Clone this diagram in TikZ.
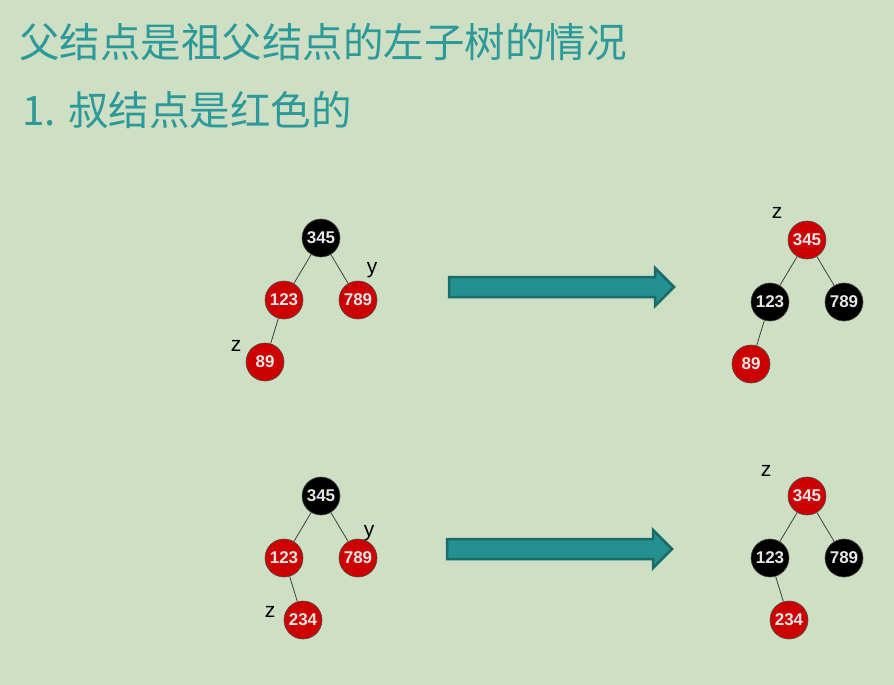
\documentclass[tikz,border=0pt]{standalone}
\usepackage{fontspec}
\setmainfont{Liberation Sans}
\newfontfamily\cjk{Noto Sans CJK SC}
\newfontfamily\numfont{Liberation Sans Bold}
\definecolor{bg}{HTML}{CFDFC3}
\definecolor{rb}{HTML}{CC0000}
\definecolor{teal1}{HTML}{2C9A9A}
\definecolor{afill}{HTML}{24908F}
\definecolor{aline}{HTML}{1B6B6B}
\definecolor{numc}{HTML}{E6E6E6}
\begin{document}
\begin{tikzpicture}[x=1pt,y=-1pt,
  rbn/.style={circle,minimum size=38pt,inner sep=0pt,draw=black!70,line width=0.6pt,
     font=\numfont\fontsize{17}{17}\selectfont,text=numc},
  rn/.style={rbn,fill=rb},
  bn/.style={rbn,fill=black},
  edge/.style={draw=black!75,line width=0.8pt},
  lab/.style={font=\fontsize{21}{21}\selectfont,text=black,inner sep=0pt},
  bigarrow/.style={fill=afill,draw=aline,line width=2.5pt,line join=miter},
  ttl/.style={font=\cjk\fontsize{40.5}{40.5}\selectfont,text=teal1,anchor=west,inner sep=0pt}
]
\fill[bg] (0,0) rectangle (894,685);
\useasboundingbox (0,0) rectangle (894,685);

\node[ttl] (t1) at (19,42) {父结点是祖父结点的左子树的情况};
\node[ttl] (t2) at (22,110) {1. 叔结点是红色的};

% tree 1 left
\node[bn] (a1) at (321,238) {345};
\node[rn] (a2) at (284,300) {123};
\node[rn] (a3) at (358,300) {789};
\node[rn] (a4) at (265,362) {89};
\draw[edge] (a1) -- (a2); \draw[edge] (a1) -- (a3); \draw[edge] (a2) -- (a4);
\node[lab] (az) at (236,346) {z};
\node[lab] (ay) at (372,270) {y};

% arrow 1
\draw[bigarrow] (449,277) -- (655,277) -- (655,268) -- (674,287) -- (655,306) -- (655,297) -- (449,297) -- cycle;

% tree 1 right
\node[rn] (b1) at (807,240) {345};
\node[bn] (b2) at (770,302) {123};
\node[bn] (b3) at (844,302) {789};
\node[rn] (b4) at (751,364) {89};
\draw[edge] (b1) -- (b2); \draw[edge] (b1) -- (b3); \draw[edge] (b2) -- (b4);
\node[lab] (bz) at (777,213) {z};

% tree 2 left
\node[bn] (c1) at (321,496) {345};
\node[rn] (c2) at (284,558) {123};
\node[rn] (c3) at (358,558) {789};
\node[rn] (c4) at (303,620) {234};
\draw[edge] (c1) -- (c2); \draw[edge] (c1) -- (c3); \draw[edge] (c2) -- (c4);
\node[lab] (cz) at (270,612) {z};
\node[lab] (cy) at (369,533) {y};

% arrow 2
\draw[bigarrow] (447,539) -- (653,539) -- (653,530) -- (672,549) -- (653,568) -- (653,559) -- (447,559) -- cycle;

% tree 2 right
\node[rn] (d1) at (807,496) {345};
\node[bn] (d2) at (770,558) {123};
\node[bn] (d3) at (844,558) {789};
\node[rn] (d4) at (789,620) {234};
\draw[edge] (d1) -- (d2); \draw[edge] (d1) -- (d3); \draw[edge] (d2) -- (d4);
\node[lab] (dz) at (766,471) {z};
\end{tikzpicture}
\end{document}
